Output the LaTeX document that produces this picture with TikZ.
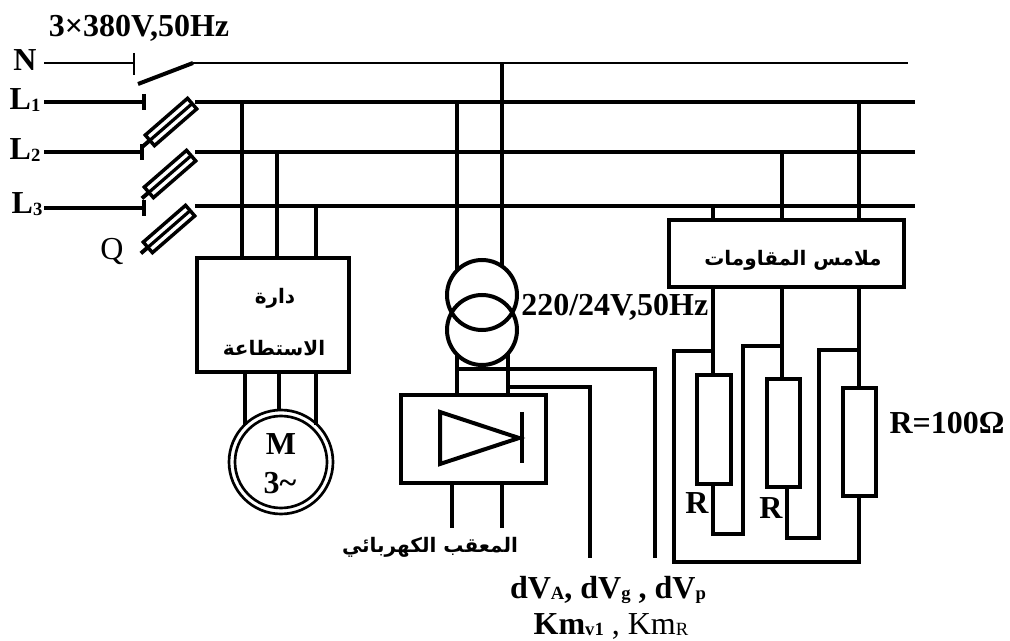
\documentclass[tikz,border=0pt]{standalone}
\usepackage{fontspec}
\setmainfont{Liberation Serif}
\newfontfamily\arabicfont[Script=Arabic]{DejaVu Sans}
\TeXXeTstate=1
\usepackage{tikz}
\usepackage{xcolor}
\newcommand{\lowtext}[1]{\raisebox{-1pt}{\fontsize{14}{14}\selectfont #1}}
\tikzset{
  wire/.style={line width=3pt},
  tapwire/.style={line width=2.5pt},
  thinwire/.style={line width=1.8pt},
  busbar/.style={line width=3.6pt},
  unitbox/.style={draw, line width=3pt, inner sep=0pt, outer sep=0pt},
  fuse/.style={draw, line width=2.6pt, minimum width=42pt, minimum height=10.5pt, inner sep=0pt, outer sep=0pt, rotate=41},
  label/.style={font=\fontsize{24}{28}\selectfont\bfseries, inner sep=0pt},
  arlabel/.style={font=\fontsize{15}{18}\selectfont\bfseries\arabicfont, inner sep=0pt}
}
\begin{document}
\begin{tikzpicture}[x=0.75pt, y=-0.75pt]
\useasboundingbox (0,0) rectangle (1010,641);
% supply side
\node[label] (title) at (139,28) {3×380V,50Hz};
\node[label] (nname) at (25,60) {N};
\node[label] (laname) at (25,100) {L\lowtext{1}};
\node[label] (lbname) at (25,150) {L\lowtext{2}};
\node[label] (lcname) at (27,204) {L\lowtext{3}};
\node[label, font=\fontsize{24}{28}\selectfont] (qname) at (112,252) {Q};

\coordinate (na) at (44,63);
\coordinate (nb) at (134,63);
\coordinate (nc) at (138,84);
\coordinate (nd) at (193,63);
\coordinate (ne) at (908,63);
\coordinate (la) at (44,102);
\coordinate (lb) at (144,102);
\coordinate (lc) at (195,102);
\coordinate (ld) at (915,102);
\coordinate (ma) at (44,152);
\coordinate (mb) at (142,152);
\coordinate (mc) at (195,152);
\coordinate (md) at (915,152);
\coordinate (pa) at (44,208);
\coordinate (pb) at (144,208);
\coordinate (pc) at (195,206);
\coordinate (pd) at (915,206);

\draw[thinwire] (na) -- (nb);
\draw[thinwire] ([yshift=7.5pt]nb) -- ([yshift=-9pt]nb);
\draw[wire] (nc) -- (nd);
\draw[thinwire] (nd) -- (ne);
\draw[busbar] (la) -- (lb);
\draw[busbar] (lc) -- (ld);
\draw[busbar] (ma) -- (mb);
\draw[busbar] (mc) -- (md);
\draw[busbar] (pa) -- (pb);
\draw[busbar] (pc) -- (pd);
\draw[busbar] ([yshift=6pt]lb) -- ([yshift=-6pt]lb);
\draw[busbar] ([yshift=6pt]mb) -- ([yshift=-6pt]mb);
\draw[busbar] ([yshift=6pt]pb) -- ([yshift=-6pt]pb);

\node[fuse] (fa) at (171,122) {};
\node[fuse] (fb) at (170,174) {};
\node[fuse] (fc) at (169,229) {};
\foreach \f in {fa,fb,fc} {
  \draw[line width=2.4pt] (\f.west) -- (\f.east);
  \draw[wire] (\f.west) -- ++(-7,6);
}

% power circuit and motor
\node[unitbox, minimum width=114pt, minimum height=85.5pt] (powerbox) at (273,315) {};
\node[arlabel] (powera) at (275,298) {\beginR دارة\endR};
\node[arlabel] (powerb) at (274,348) {\beginR الاستطاعة\endR};
\node[circle, draw, line width=2pt, minimum size=78pt, inner sep=0pt, outer sep=0pt] (motor) at (281,462) {};
\node[circle, draw, line width=2pt, minimum size=69pt, inner sep=0pt, outer sep=0pt] (motorin) at (281,462) {};
\node[label] (mname) at (281,444) {M};
\node[label] (mphase) at (280,483) {3\textasciitilde};

\coordinate (ta) at (242,102);
\coordinate (tb) at (277,152);
\coordinate (tc) at (316,206);
\draw[wire] (ta) -- (ta |- powerbox.north);
\draw[wire] (tb) -- (tb |- powerbox.north);
\draw[tapwire] (tc) -- (tc |- powerbox.north);
\coordinate (ua) at (245,425);
\coordinate (ub) at (279,410);
\coordinate (uc) at (316,425);
\draw[wire] (ua |- powerbox.south) -- (ua);
\draw[wire] (ub |- powerbox.south) -- (ub);
\draw[wire] (uc |- powerbox.south) -- (uc);

% transformer and rectifier
\node[circle, draw, wire, minimum size=52.5pt, inner sep=0pt, outer sep=0pt] (trtop) at (482,295) {};
\node[circle, draw, wire, minimum size=52.5pt, inner sep=0pt, outer sep=0pt] (trbot) at (482,330) {};
\node[label, anchor=west] (trname) at (521,307) {220/24V,50Hz};
\node[unitbox, minimum width=109pt, minimum height=66pt] (rectifier) at (473.5,439) {};
\coordinate (va) at (457,102);
\coordinate (vaa) at (457,270);
\coordinate (vb) at (502,63);
\coordinate (vbb) at (502,266);
\coordinate (vc) at (457,354);
\coordinate (vd) at (508,353);
\coordinate (ve) at (655,369);
\coordinate (vf) at (655,558);
\coordinate (vg) at (590,387);
\coordinate (vh) at (590,558);
\coordinate (da) at (440,412);
\coordinate (db) at (440,464);
\coordinate (dc) at (519,438);
\coordinate (dd) at (522,412);
\coordinate (de) at (522,463);
\coordinate (oa) at (452,528);
\coordinate (ob) at (502,528);
\draw[wire] (va) -- (vaa);
\draw[wire] (vb) -- (vbb);
\draw[wire] (vc) -- (vc |- rectifier.north);
\draw[wire] (vd) -- (vd |- rectifier.north);
\draw[wire] (vc |- ve) -- (ve) -- (vf);
\draw[wire] (vd |- vg) -- (vg) -- (vh);
\draw[wire] (da) -- (db) -- (dc) -- cycle;
\draw[wire] (dd) -- (de);
\draw[wire] (oa |- rectifier.south) -- (oa);
\draw[wire] (ob |- rectifier.south) -- (ob);
\node[arlabel] (rectname) at (430,547) {\beginR المعقب الكهربائي\endR};
\node[label] (sigtop) at (608,590) {dV\lowtext{A}, dV\lowtext{g} , dV\lowtext{p}};
\node[label] (sigbot) at (611,626) {Km\lowtext{v1}\mdseries{} , Km\lowtext{R}};

% resistor contacts
\node[unitbox, minimum width=176pt, minimum height=50pt] (contactbox) at (786.5,253.5) {};
\node[arlabel] (contactname) at (793,260) {\beginR ملامس المقاومات\endR};
\node[unitbox, minimum width=25.5pt, minimum height=81.5pt] (resa) at (714,429.5) {};
\node[unitbox, minimum width=25pt, minimum height=81pt] (resb) at (783.5,433) {};
\node[unitbox, minimum width=25pt, minimum height=81pt] (resc) at (859.5,442) {};
\node[label] (ranme) at (697,503) {R};
\node[label] (rbnme) at (771,508) {R};
\node[label] (rcnme) at (947,423) {R=100Ω};

\coordinate (ka) at (713,206);
\coordinate (kb) at (782,152);
\coordinate (kc) at (859,102);
\draw[tapwire] (ka) -- (ka |- contactbox.north);
\draw[wire] (kb) -- (kb |- contactbox.north);
\draw[wire] (kc) -- (kc |- contactbox.north);
\draw[wire] (ka |- contactbox.south) -- (ka |- resa.north);
\draw[wire] (kb |- contactbox.south) -- (kb |- resb.north);
\draw[wire] (kc |- contactbox.south) -- (kc |- resc.north);

\coordinate (wa) at (713,534);
\coordinate (wb) at (743,534);
\coordinate (wc) at (743,346);
\coordinate (wd) at (787,538);
\coordinate (we) at (819,538);
\coordinate (wf) at (819,350);
\coordinate (wg) at (859,562);
\coordinate (wh) at (674,562);
\coordinate (wi) at (674,351);
\draw[wire] (wa |- resa.south) -- (wa) -- (wb) -- (wc) -- (kb |- wc);
\draw[wire] (wd |- resb.south) -- (wd) -- (we) -- (wf) -- (kc |- wf);
\draw[wire] (wg |- resc.south) -- (wg) -- (wh) -- (wi) -- (ka |- wi);
\end{tikzpicture}
\end{document}
